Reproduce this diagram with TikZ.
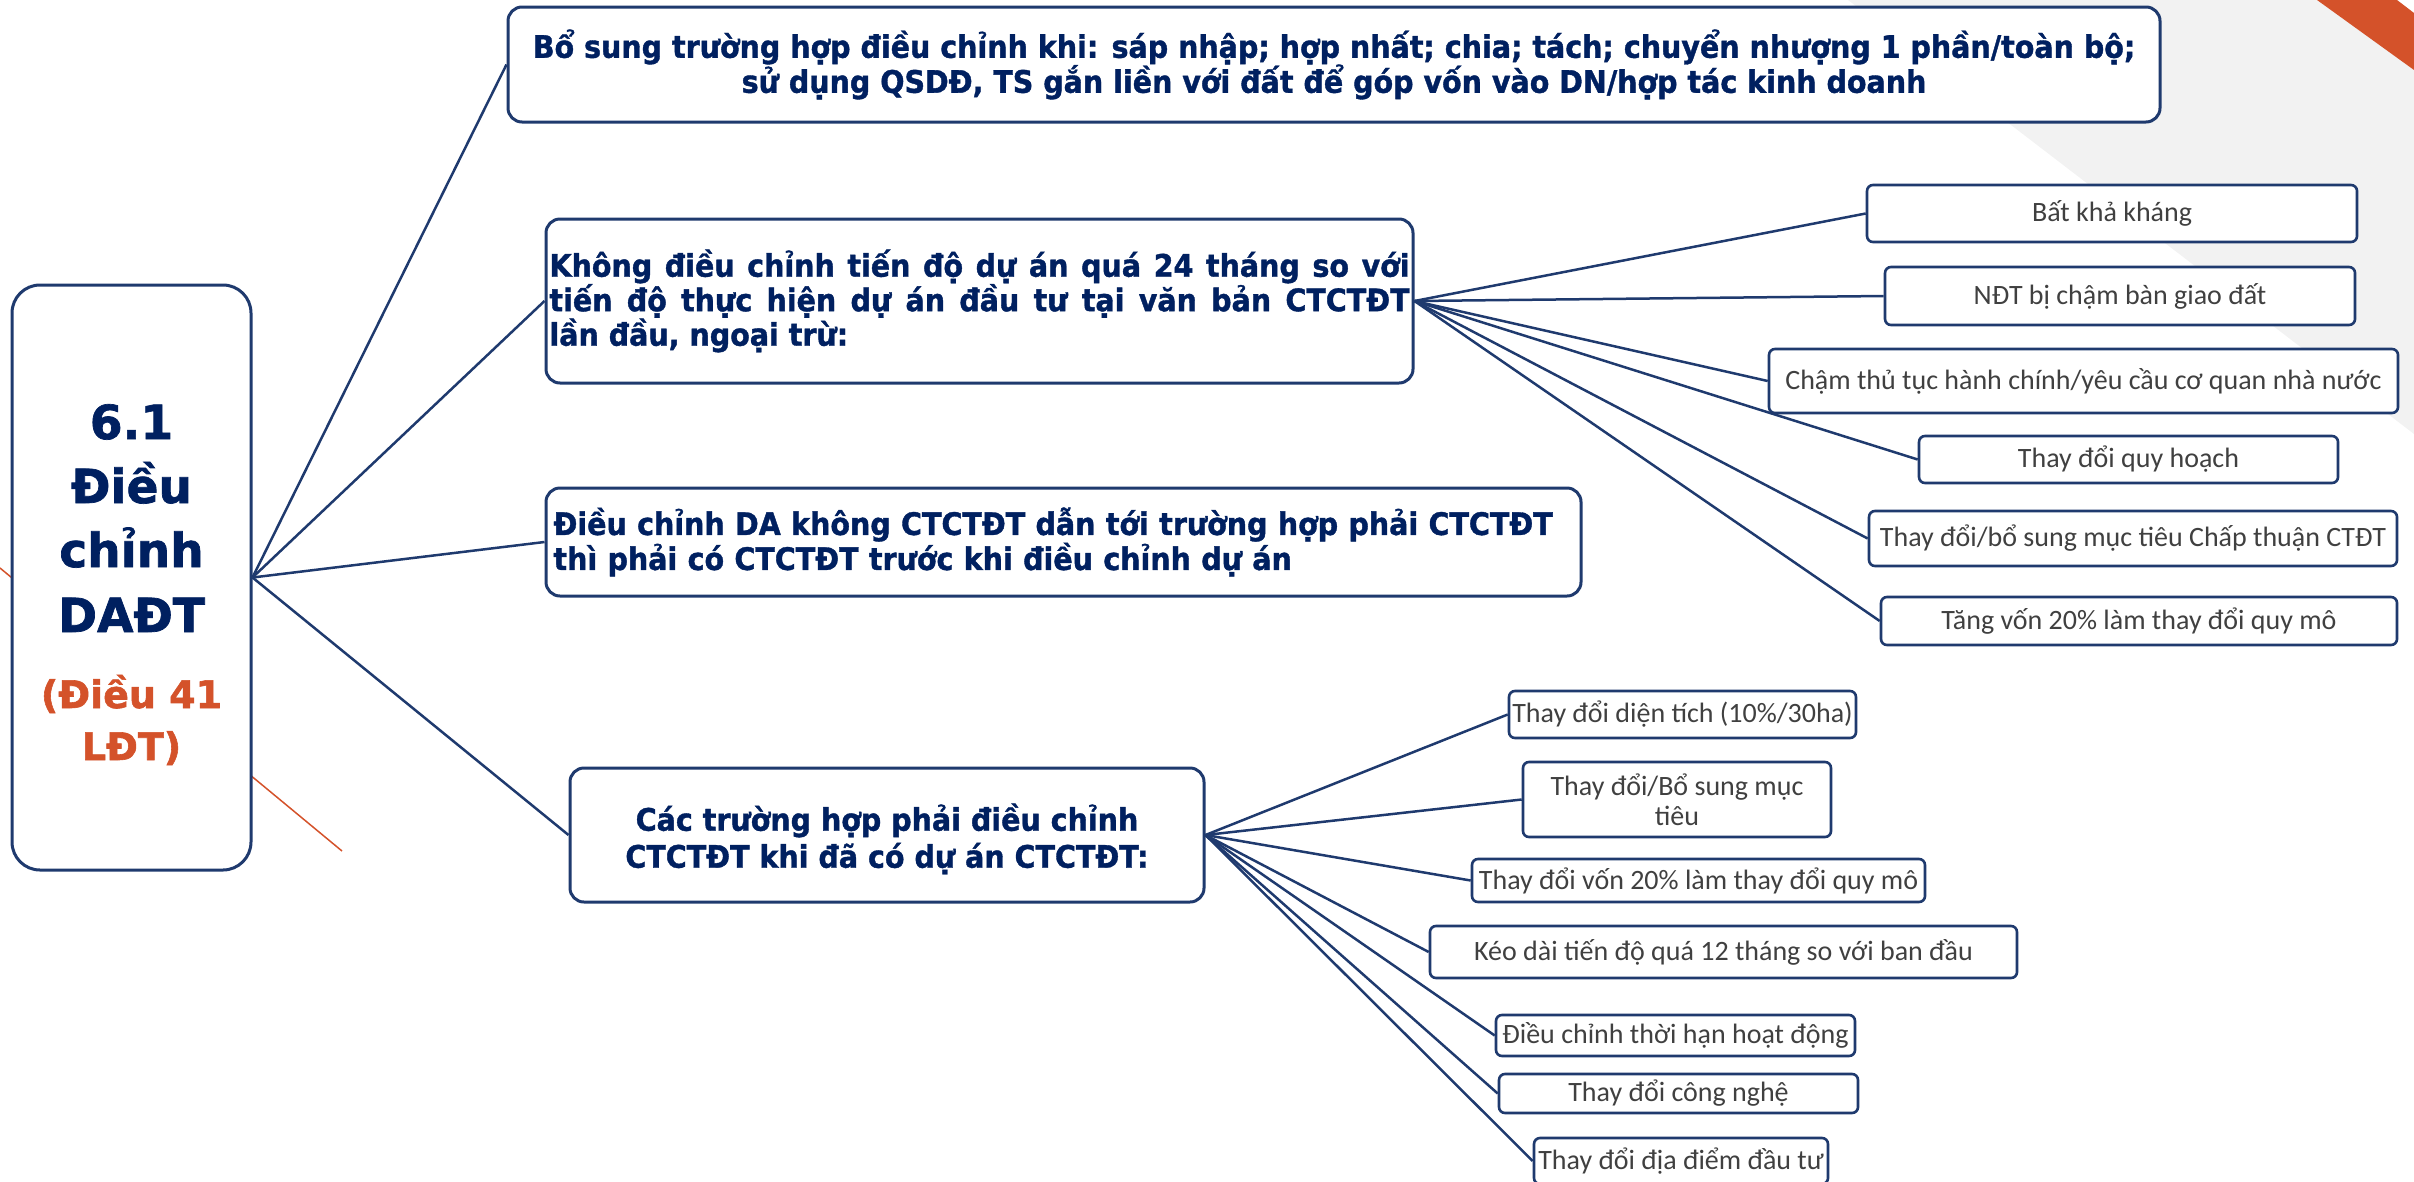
\documentclass[tikz,border=0pt]{standalone}
\usepackage{fontspec}
\setmainfont{DejaVu Sans}
\newfontfamily\calfont{Carlito}
\newfontfamily\tahA[FakeStretch=0.92,FakeBold=1.2]{DejaVu Sans}
\newfontfamily\verd[FakeBold=1.5]{DejaVu Sans}
\definecolor{navy}{HTML}{002060}
\definecolor{bordc}{HTML}{1F3A6E}
\definecolor{orng}{HTML}{D4522A}
\definecolor{greybg}{HTML}{F2F2F2}
\definecolor{smalltxt}{HTML}{404040}
\begin{document}
\begin{tikzpicture}[x=1pt,y=-1pt,
  bigbox/.style={draw=bordc, line width=3pt, rounded corners=14pt, fill=white, inner sep=0pt, text=navy},
  fontA/.style={font=\tahA\bfseries\fontsize{31}{35}\selectfont},
  fontB/.style={font=\tahA\bfseries\fontsize{31}{34.5}\selectfont},
  fontC/.style={font=\tahA\bfseries\fontsize{31}{37}\selectfont},
  mainbox/.style={draw=bordc, line width=3pt, rounded corners=28pt, fill=white, inner sep=0pt},
  maintxt/.style={font=\verd\bfseries\fontsize{47}{64}\selectfont, text=navy, inner sep=0pt},
  subtxt/.style={font=\verd\bfseries\fontsize{38}{52}\selectfont, text=orng, inner sep=0pt},
  smallbox/.style={draw=bordc, line width=2.6pt, rounded corners=6pt, fill=white, inner sep=0pt,
    font=\calfont\fontsize{28}{30}\selectfont, text=smalltxt},
  conn/.style={draw=bordc, line width=2.5pt},
]
\useasboundingbox (0,0) rectangle (2414,1181);
% background decoration
\fill[greybg] (1848,0) -- (2317,0) -- (2414,70) -- (2414,434) -- cycle;
\fill[orng] (2317,0) -- (2397,0) -- (2414,13) -- (2414,70) -- cycle;
\coordinate (ra) at (0,568);
\coordinate (rb) at (342,851);
\draw[orng, line width=1.5pt] (ra) -- (rb);

% main box
\node[mainbox, minimum width=239pt, minimum height=585pt] (main) at (131.5,577.5) {};

% first level boxes
\node[bigbox, fontA, minimum width=1652pt, minimum height=115pt, align=center] (top) at (1334,64.5)
  {Bổ sung trường hợp điều chỉnh khi: sáp nhập; hợp nhất; chia; tách; chuyển nhượng 1 phần/toàn bộ;\\
   sử dụng QSDĐ, TS gắn liền với đất để góp vốn vào DN/hợp tác kinh doanh};
\node[bigbox, fontB, minimum width=867pt, minimum height=164pt, text width=860pt, align=justify] (b2) at (979.5,301)
  {Không điều chỉnh tiến độ dự án quá 24 tháng so với\linebreak
   tiến độ thực hiện dự án đầu tư tại văn bản CTCTĐT\linebreak
   lần đầu, ngoại trừ:};
\node[bigbox, fontA, minimum width=1035pt, minimum height=108pt, text width=1020pt, align=left] (b3) at (1063.5,542)
  {Điều chỉnh DA không CTCTĐT dẫn tới trường hợp phải CTCTĐT\\
   thì phải có CTCTĐT trước khi điều chỉnh dự án};
\node[bigbox, fontC, minimum width=634pt, minimum height=134pt, align=center] (b4) at (887,835)
  {\\[-2pt]Các trường hợp phải điều chỉnh\\ CTCTĐT khi đã có dự án CTCTĐT:};

% upper small boxes
\node[smallbox, minimum width=490pt, minimum height=57pt] (s1) at (2112,213.5) {Bất khả kháng};
\node[smallbox, minimum width=470pt, minimum height=58pt] (s2) at (2120,296) {NĐT bị chậm bàn giao đất};
\node[smallbox, minimum width=629pt, minimum height=64pt] (s3) at (2083.5,381) {Chậm thủ tục hành chính/yêu cầu cơ quan nhà nước};
\node[smallbox, minimum width=419pt, minimum height=47pt] (s4) at (2128.5,459.5) {Thay đổi quy hoạch};
\node[smallbox, minimum width=528pt, minimum height=55pt] (s5) at (2133,538.5) {Thay đổi/bổ sung mục tiêu Chấp thuận CTĐT};
\node[smallbox, minimum width=516pt, minimum height=48pt] (s6) at (2139,621) {Tăng vốn 20\% làm thay đổi quy mô};

% lower small boxes
\node[smallbox, minimum width=347pt, minimum height=47pt] (l1) at (1682.5,714.5) {Thay đổi diện tích (10\%/30ha)};
\node[smallbox, minimum width=308pt, minimum height=75pt, align=center] (l2) at (1677,799.5) {Thay đổi/Bổ sung mục\\tiêu};
\node[smallbox, minimum width=453pt, minimum height=43pt] (l3) at (1698.5,880.5) {Thay đổi vốn 20\% làm thay đổi quy mô};
\node[smallbox, minimum width=587pt, minimum height=52pt] (l4) at (1723.5,952) {Kéo dài tiến độ quá 12 tháng so với ban đầu};
\node[smallbox, minimum width=359pt, minimum height=41pt] (l5) at (1675.5,1035.5) {Điều chỉnh thời hạn hoạt động};
\node[smallbox, minimum width=359pt, minimum height=39pt] (l6) at (1678.5,1093.5) {Thay đổi công nghệ};
\node[smallbox, minimum width=294pt, minimum height=46pt] (l7) at (1681,1161) {Thay đổi địa điểm đầu tư};

% connectors
\draw[conn] (main.east) -- (top.west);
\draw[conn] (main.east) -- (b2.west);
\draw[conn] (main.east) -- (b3.west);
\draw[conn] (main.east) -- (b4.west);
\foreach \n in {s1,s2,s3,s4,s5,s6} \draw[conn] (b2.east) -- (\n.west);
\foreach \n in {l1,l2,l3,l4,l5,l6,l7} \draw[conn] (b4.east) -- (\n.west);

% main box text
\node[maintxt, anchor=base] (m1) at (131.5,439) {6.1};
\node[maintxt, anchor=base] (m2) at (131.5,503) {Điều};
\node[maintxt, anchor=base] (m3) at (131.5,567) {chỉnh};
\node[maintxt, anchor=base] (m4) at (131.5,632) {DAĐT};
\node[subtxt, anchor=base] (m5) at (131.5,708) {(Điều 41};
\node[subtxt, anchor=base] (m6) at (131.5,760) {LĐT)};
\end{tikzpicture}
\end{document}
